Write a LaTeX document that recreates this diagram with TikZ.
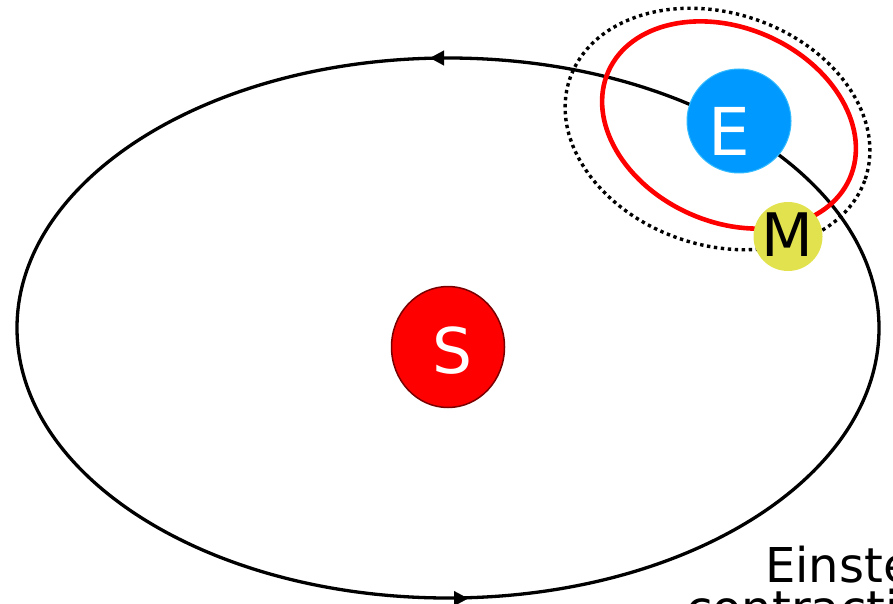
\documentclass[tikz,border=0pt]{standalone}
\usepackage{fontspec}
\setmainfont{DejaVu Sans}
\usetikzlibrary{arrows.meta}
\definecolor{earthblue}{HTML}{0099FF}
\definecolor{earthedge}{HTML}{33BBFF}
\definecolor{moonyellow}{HTML}{E2E24E}
\definecolor{sunedge}{HTML}{7A0000}
\tikzset{
  orbit/.style={line width=3.3pt},
  body/.style={circle, inner sep=0pt},
  dirtip/.style={-{Triangle[length=14pt,width=15pt]}, line width=0.1pt},
  caption/.style={font=\fontsize{48}{56}\selectfont, inner sep=0pt}
}
\begin{document}
\begin{tikzpicture}[x=1pt,y=1pt]
\useasboundingbox (0,0) rectangle (893,-604);
% Earth orbit around the Sun
\draw[orbit] (448,-328) ellipse [x radius=431, y radius=270];
\coordinate (t1) at (444,-58);
\coordinate (t2) at (430,-58);
\coordinate (b1) at (454,-598.5);
\coordinate (b2) at (468,-598.5);
\draw[dirtip] (t1) -- (t2);
\draw[dirtip] (b1) -- (b2);
% dotted ellipse
\draw[line width=3.4pt, dash pattern=on 3.4pt off 3.6pt, rotate around={-18.7:(717.5,-129)}]
  (717.5,-129) ellipse [x radius=156, y radius=116];
% red moon orbit
\draw[red, line width=4.6pt, rotate around={-24:(729,-125)}]
  (729,-125) ellipse [x radius=132, y radius=97];
% bodies
\node[draw=sunedge, line width=1.5pt, fill=red, inner sep=0pt,
      minimum size=121pt, shape=circle, xscale=113/121] (sun) at (448,-347) {};
\node[text=white, font=\fontsize{63}{63}\selectfont, inner sep=0pt] (sunlbl) at (452.5,-351) {S};
\node[body, fill=earthblue, draw=earthedge, line width=1pt, minimum size=104pt] (earth) at (739,-121) {};
\node[text=white, font=\fontsize{66}{66}\selectfont, inner sep=0pt] (earthlbl) at (729,-131) {E};
\node[body, fill=moonyellow, minimum size=69pt] (moon) at (788,-236.5) {};
\node[text=black, font=\fontsize{60}{60}\selectfont, inner sep=0pt] (moonlbl) at (787.5,-235) {M};
% caption (cut off at the right edge)
\node[caption, anchor=base west] (cap1) at (765,-582) {Einstein};
\node[caption, anchor=base west] (cap2) at (686,-625) {contraction};
\end{tikzpicture}
\end{document}
